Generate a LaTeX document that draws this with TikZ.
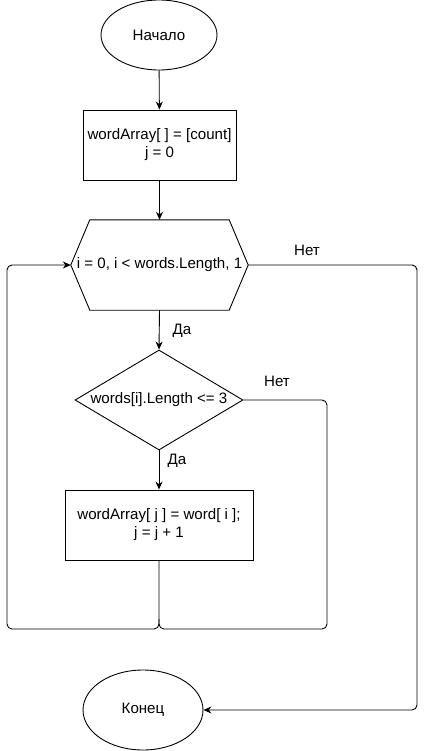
\documentclass[tikz,border=0pt]{standalone}
\usepackage{fontspec}
\setmainfont{Liberation Sans}
\usetikzlibrary{shapes.geometric,arrows.meta}
\begin{document}
\begin{tikzpicture}[x=1pt,y=-1pt,
  every node/.style={font=\fontsize{15.1}{18}\selectfont, inner sep=0pt},
  shp/.style={draw, line width=0.9pt},
  term/.style={shp, ellipse},
  proc/.style={shp, rectangle, align=center, minimum height=70},
  cond/.style={shp, diamond, aspect=1.68, minimum width=168, minimum height=100},
  line/.style={line width=0.9pt, rounded corners=5pt},
  arr/.style={line, -{Stealth[length=8pt,width=7pt]}},
  lbl/.style={}
]
\useasboundingbox (0,0) rectangle (426,751);
\node[term, minimum width=116, minimum height=70] (start) at (159,35) {Начало};
\node[proc, minimum width=153] (init) at (159.5,145) {wordArray[ ] = [count]\\j = 0};
\node[minimum width=177, minimum height=90] (loop) at (159.5,265) {i = 0, i < words.Length, 1};
\draw[shp] (loop.west) -- ([xshift=19]loop.north west) -- ([xshift=-19]loop.north east)
  -- (loop.east) -- ([xshift=-19]loop.south east) -- ([xshift=19]loop.south west) -- cycle;
\node[cond] (cnd) at (159,400) {words[i].Length <= 3};
\node[proc, minimum width=188] (body) at (159,525) {wordArray[ j ] = word[ i ];\\j = j + 1};
\node[term, minimum width=120, minimum height=80] (end) at (143,710) {Конец};

\coordinate (bm) at (159,629);
\coordinate (bl) at (7,629);
\coordinate (tl) at (7,265);
\coordinate (cr) at (327,400);
\coordinate (br) at (327,629);
\coordinate (tr) at (417,265);
\coordinate (er) at (417,710);

\draw[arr] (start) -- (init);
\draw[arr] (init) -- (loop.north);
\draw[arr] (loop.south) -- (cnd.north);
\draw[arr] (cnd.south) -- (body.north);
\draw[arr] (body.south) -- (bm) -- (bl) -- (tl) -- (loop.west);
\draw[line] (cnd.east) -- (cr) -- (br) -- (bm) -- ([yshift=10]bm);
\draw[arr] (loop.east) -- (tr) -- (er) -- (end.east);

\node[lbl] (n1) at (307,250) {Нет};
\node[lbl] (n2) at (277,381) {Нет};
\node[lbl] (y1) at (182,331) {Да};
\node[lbl] (y2) at (177,461) {Да};
\end{tikzpicture}
\end{document}
